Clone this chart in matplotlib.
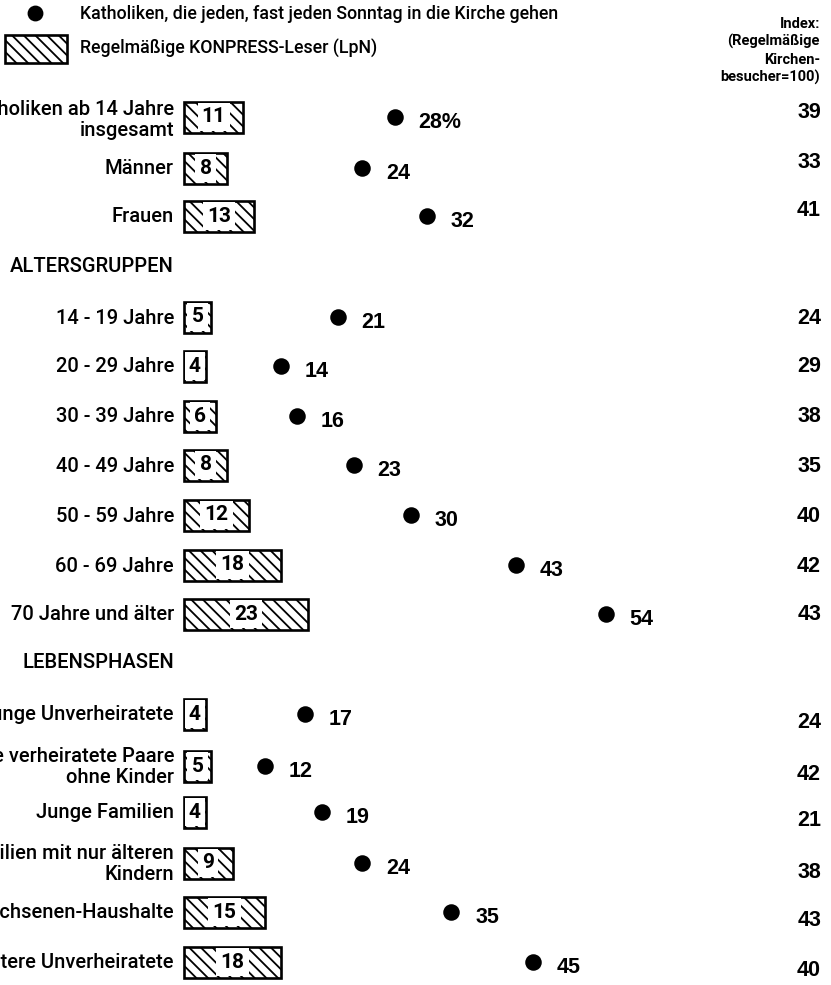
import matplotlib
matplotlib.use("Agg")
import matplotlib.pyplot as plt
from matplotlib.patches import Rectangle

DPI = 140
S = 100.0 / DPI  # convert "points at 100 dpi" to points at DPI

plt.rcParams['font.family'] = ['Roboto', 'Liberation Sans', 'DejaVu Sans']
plt.rcParams['hatch.linewidth'] = 1.3 * S
NUMFONT = ['Liberation Sans', 'DejaVu Sans']
HATCH = '\\' * 4

# ---- data ----
labels = ["Katholiken ab 14 Jahre\ninsgesamt", "Männer", "Frauen",
          "14 - 19 Jahre", "20 - 29 Jahre", "30 - 39 Jahre", "40 - 49 Jahre",
          "50 - 59 Jahre", "60 - 69 Jahre", "70 Jahre und älter",
          "Junge Unverheiratete", "Junge verheiratete Paare\nohne Kinder",
          "Junge Familien", "Familien mit nur älteren\nKindern",
          "Erwachsenen-Haushalte", "Ältere Unverheiratete"]
kirchgaenger = [28, 24, 32, 21, 14, 16, 23, 30, 43, 54, 17, 12, 19, 24, 35, 45]
konpress_leser = [11, 8, 13, 5, 4, 6, 8, 12, 18, 23, 4, 5, 4, 9, 15, 18]
index_values = [39, 33, 41, 24, 29, 38, 35, 40, 42, 43, 24, 42, 21, 38, 43, 40]
groups = ["", "", "", "A", "A", "A", "A", "A", "A", "A", "L", "L", "L", "L", "L", "L"]
headers = ["ALTERSGRUPPEN", "LEBENSPHASEN"]
legend_dot = "Katholiken, die jeden, fast jeden Sonntag in die Kirche gehen"
legend_bar = "Regelmäßige KONPRESS-Leser (LpN)"
index_title = "Index:\n(Regelmäßige\nKirchen-\nbesucher=100)"

# ---- layout (pixel rows) ----
row_y = [117, 168, 216, 317, 366, 416, 465, 515, 565, 614, 714, 766, 812, 863, 912, 962]
header_y = [267, 663]
W, H = 831, 985
bar_x0, bar_scale = 184, 5.4
dot_x0, dot_scale = 167.3, 8.12

fig = plt.figure(figsize=(W / DPI, H / DPI), dpi=DPI)
ax = fig.add_axes([0, 0, 1, 1])
ax.set_xlim(-bar_x0 / bar_scale, (W - bar_x0) / bar_scale)
ax.set_ylim(H, 0)
ax.axis('off')
ax2 = ax.twiny()
ax2.set_xlim(-dot_x0 / dot_scale, (W - dot_x0) / dot_scale)
ax2.set_ylim(H, 0)
ax2.axis('off')
axp = fig.add_axes([0, 0, 1, 1], facecolor='none')
axp.set_xlim(0, W)
axp.set_ylim(H, 0)
axp.axis('off')

# bars
ax.barh(row_y, konpress_leser, height=31, left=0, color='white',
        edgecolor='black', hatch=HATCH, linewidth=1.9 * S)
for v, y in zip(konpress_leser, row_y):
    ax.text(v / 2, y, str(v), ha='center', va='center', fontsize=15 * S,
            fontweight='bold', family=['Roboto', 'DejaVu Sans'],
            bbox=dict(boxstyle='square,pad=0.2', fc='white', ec='none'))

# dots
ax2.plot(kirchgaenger, row_y, 'o', ms=10.5 * S, color='black', ls='none')
for i, (v, y) in enumerate(zip(kirchgaenger, row_y)):
    txt = f"{v}%" if i == 0 else str(v)
    ax2.annotate(txt, (v, y), xytext=(17 * S, -4 * S), textcoords='offset points',
                 ha='left', va='center', fontsize=15.5 * S, fontweight='bold',
                 family=NUMFONT)

# row labels
for lab, y in zip(labels, row_y):
    dy = 3 if lab.startswith("Katholiken") else 1
    axp.text(174, y + dy, lab, ha='right', va='center', fontsize=14.5 * S,
             fontweight='medium', linespacing=1.1)
for h, y in zip(headers, header_y):
    axp.text(174, y, h, ha='right', va='center', fontsize=14.5 * S,
             fontweight='medium')

# index column
offs = {"": -5, "A": 1, "L": 9}
for v, y, g in zip(index_values, row_y, groups):
    axp.text(821, y + offs[g], str(v), ha='right', va='center',
             fontsize=15.5 * S, fontweight='bold', family=NUMFONT)
axp.text(820, 51, index_title, ha='right', va='center', fontsize=10.5 * S,
         fontweight='bold', linespacing=1.28, multialignment='right')

# legend
axp.plot([35], [13], 'o', ms=10 * S, color='black')
axp.text(80, 14, legend_dot, ha='left', va='center', fontsize=12.8 * S,
         fontweight='medium')
axp.add_patch(Rectangle((5, 35), 62, 28, fc='white', ec='black', lw=1.9 * S,
                        hatch=HATCH))
axp.text(80, 48, legend_bar, ha='left', va='center', fontsize=12.8 * S,
         fontweight='medium')

fig.savefig('out.png', dpi=DPI)
